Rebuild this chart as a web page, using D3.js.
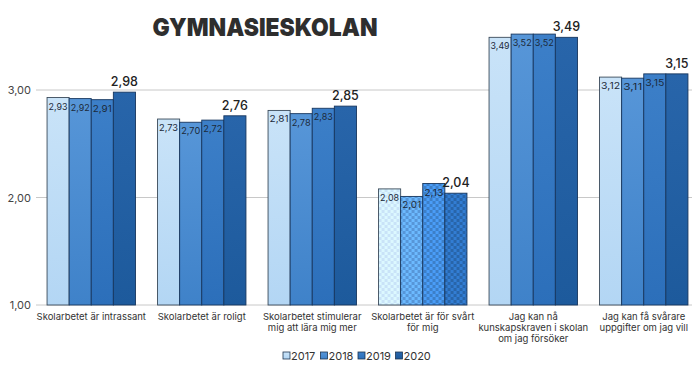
<!DOCTYPE html>
<html><head><meta charset="utf-8">
<script src="https://cdn.jsdelivr.net/npm/d3@7"></script>
<style>body{margin:0;background:#fff}svg{display:block}text{font-family:Inter,"Noto Sans",sans-serif}</style>
</head><body><svg id="c" width="692" height="365"></svg>
<script>
const categories = [
  ["Skolarbetet är intrassant"],
  ["Skolarbetet är roligt"],
  ["Skolarbetet stimulerar","mig att lära mig mer"],
  ["Skolarbetet är för svårt","för mig"],
  ["Jag kan nå","kunskapskraven i skolan","om jag försöker"],
  ["Jag kan få svårare","uppgifter om jag vill"]
];
const years = ["2017","2018","2019","2020"];
const v2017 = [2.93, 2.73, 2.81, 2.08, 3.49, 3.12];
const v2018 = [2.92, 2.70, 2.78, 2.01, 3.52, 3.11];
const v2019 = [2.91, 2.72, 2.83, 2.13, 3.52, 3.15];
const v2020 = [2.98, 2.76, 2.85, 2.04, 3.49, 3.15];
const yTicks = [1, 2, 3];
const patternedCategory = 3;

const series = [v2017, v2018, v2019, v2020];
const colTop = ["#c9e3f8","#5796d8","#3c7fc8","#2865aa"];
const colBot = ["#b3d6f4","#3f82c9","#2c6fba","#1d5a9c"];
const fmt = v => d3.format(".2f")(v).replace(".", ",");

const svg = d3.select("#c");
const defs = svg.append("defs");
years.forEach((yr,i)=>{
  const g = defs.append("linearGradient").attr("id","g"+i).attr("x1",0).attr("y1",0).attr("x2",0).attr("y2",1);
  g.append("stop").attr("offset","0%").attr("stop-color",colTop[i]);
  g.append("stop").attr("offset","100%").attr("stop-color",colBot[i]);
  const p = defs.append("pattern").attr("id","p"+i).attr("width",6).attr("height",6).attr("patternUnits","userSpaceOnUse");
  p.append("rect").attr("width",6).attr("height",6).attr("fill",colTop[i]);
  const light = d3.color(colTop[i]).brighter(i===0?0.25:0.6);
  p.append("rect").attr("width",3).attr("height",3).attr("fill",light);
  p.append("rect").attr("x",3).attr("y",3).attr("width",3).attr("height",3).attr("fill",light);
});

const x = d3.scaleBand().domain(d3.range(categories.length)).range([36, 699]).paddingInner(0.2).paddingOuter(0.1);
const xi = d3.scaleBand().domain(years).range([0, x.bandwidth()]);
const y = d3.scaleLinear().domain([1, 3]).range([305, 90]);

// grid + y labels
const yAxis = svg.append("g");
yAxis.selectAll("line").data(yTicks).join("line")
  .attr("x1",36).attr("x2",692).attr("y1",d=>y(d)).attr("y2",d=>y(d))
  .attr("stroke","#c8c8c8").attr("stroke-width",1);
yAxis.selectAll("text").data(yTicks).join("text")
  .attr("x",31).attr("y",d=>y(d)+4).attr("text-anchor","end")
  .attr("font-size",11).attr("fill","#444").text(d=>fmt(d));

// title
svg.append("text").attr("x",265).attr("y",36).attr("text-anchor","middle")
  .attr("font-size",25).attr("font-weight",900).attr("fill","#2e2e2e")
  .attr("textLength",225).attr("lengthAdjust","spacingAndGlyphs").text("GYMNASIESKOLAN");

// bars
const groups = svg.append("g").selectAll("g").data(categories).join("g")
  .attr("transform",(d,i)=>`translate(${x(i)},0)`);
groups.each(function(cat, ci){
  const g = d3.select(this);
  years.forEach((yr, si)=>{
    const v = series[si][ci];
    g.append("rect").attr("x",xi(yr)).attr("y",y(v))
      .attr("width",xi.bandwidth()).attr("height",y(1)-y(v))
      .attr("fill", ci===patternedCategory ? `url(#p${si})` : `url(#g${si})`)
      .attr("stroke", si===0 ? "#3a4a5a" : "#17365e").attr("stroke-width",0.9);
    if (si < 3) {
      g.append("text").attr("x",xi(yr)+xi.bandwidth()/2).attr("y",y(v)+12)
        .attr("text-anchor","middle").attr("font-size",9.5).attr("fill","#1c2a3a")
        .attr("textLength", 19).attr("lengthAdjust","spacingAndGlyphs").text(fmt(v));
    } else {
      g.append("text").attr("x",xi(yr)+xi.bandwidth()/2).attr("y",y(v)-6)
        .attr("text-anchor","middle").attr("font-size",12.5).attr("font-weight",500).attr("fill","#222").text(fmt(v));
    }
  });
  const t = g.append("text").attr("x",x.bandwidth()/2).attr("y",320)
    .attr("text-anchor","middle").attr("font-size",9.5).attr("fill","#333");
  cat.forEach((line, li)=>t.append("tspan").attr("x",x.bandwidth()/2).attr("dy", li===0?0:11).text(line));
});

// legend
const leg = svg.append("g").attr("transform","translate(283,360)");
years.forEach((yr,i)=>{
  const lg = leg.append("g").attr("transform",`translate(${i*37.5},0)`);
  lg.append("rect").attr("x",0).attr("y",-8).attr("width",7).attr("height",7)
    .attr("fill",`url(#g${i})`).attr("stroke","#1f3550").attr("stroke-width",0.8);
  lg.append("text").attr("x",8).attr("y",0).attr("font-size",11).attr("fill","#333").text(yr);
});
</script></body></html>
